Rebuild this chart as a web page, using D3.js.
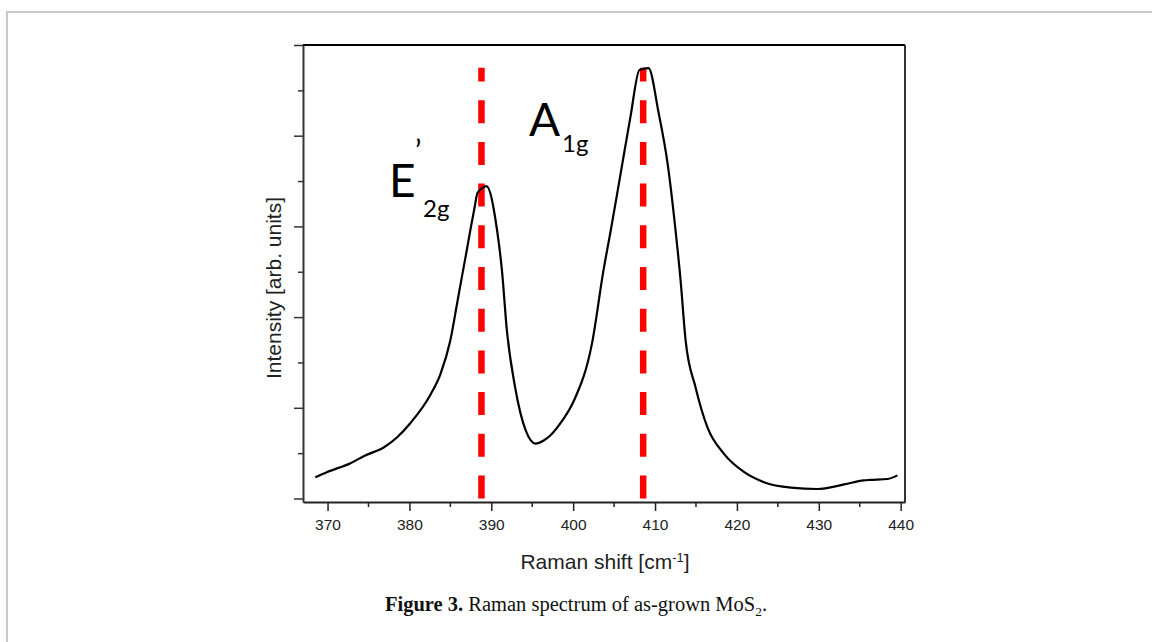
<!DOCTYPE html>
<html>
<head>
<meta charset="utf-8">
<script src="https://cdn.jsdelivr.net/npm/d3@7"></script>
<style>
  body { margin: 0; background: #fff; }
  svg { display: block; }
</style>
</head>
<body>
<div id="chart"></div>
<script>
// Raman shift (cm-1) and intensity (arb. units)
const shift = [368.5, 369.9, 372.8, 374.6, 376.9, 378.5, 380.1, 382.6, 383.8, 385.0,
  385.82, 386.43, 386.96, 387.45, 387.94, 388.3, 388.8, 389.4, 390.7, 391.3, 391.9, 392.9,
  394.2, 395.4, 396.4, 397.2, 398.6, 400.1, 402.3, 403.7, 404.6, 405.8, 407.0,
  408.1, 409.2, 410.42, 411.53, 412.5, 413.12, 413.73, 414.95, 416.4, 418.4, 420.9,
  423.3, 426.6, 429.8, 433.1, 435.5, 436.3, 438.4, 439.6];
const intensity = [0.47, 0.58, 0.78, 0.95, 1.13, 1.35, 1.66, 2.30, 2.75, 3.49,
  4.30, 4.91, 5.43, 5.93, 6.40, 6.73, 6.83, 6.89, 5.92, 5.03, 3.71, 2.46,
  1.50, 1.21, 1.28, 1.39, 1.70, 2.16, 3.42, 5.03, 5.92, 7.17, 8.42,
  9.45, 9.49, 8.52, 7.39, 5.92, 4.81, 3.49, 2.45, 1.57, 0.99, 0.58,
  0.36, 0.24, 0.21, 0.31, 0.40, 0.41, 0.43, 0.51];

// peak positions marked with red dashed lines
const peakNames = ["E2g", "A1g"];
const peakPos = [388.8, 408.55];
const peakTop = 9.5;

const xTicks = [370, 380, 390, 400, 410, 420, 430, 440];
const xMinor = [375, 385, 395, 405, 415, 425, 435];
const yTicks = d3.range(0, 11);

const width = 1152, height = 642;
const svg = d3.select("#chart").append("svg")
  .attr("width", width)
  .attr("height", height);

// page frame
svg.append("rect")
  .attr("x", 7).attr("y", 12)
  .attr("width", 1170).attr("height", 650)
  .attr("fill", "none")
  .attr("stroke", "#c8c8c8")
  .attr("stroke-width", 2);

const plot = { left: 303, right: 905, top: 45, bottom: 502 };

const x = d3.scaleLinear().domain([367.0, 440.53]).range([plot.left, plot.right]);
const y = d3.scaleLinear().domain([-0.077, 10]).range([plot.bottom, plot.top]);

// box: top and right sides
svg.append("line")
  .attr("x1", plot.left).attr("x2", plot.right)
  .attr("y1", plot.top).attr("y2", plot.top)
  .attr("stroke", "#000").attr("stroke-width", 2.2);
svg.append("line")
  .attr("x1", plot.right).attr("x2", plot.right)
  .attr("y1", plot.top).attr("y2", plot.bottom)
  .attr("stroke", "#333").attr("stroke-width", 2);

// x axis
const xAxis = svg.append("g")
  .attr("transform", `translate(0,${plot.bottom})`)
  .call(d3.axisBottom(x).tickValues(xTicks).tickSize(9).tickPadding(8).tickSizeOuter(0));
xAxis.selectAll(".tick line").attr("stroke", "#222").attr("stroke-width", 1.5);
xAxis.select(".domain").attr("stroke", "#222").attr("stroke-width", 2);
xAxis.selectAll(".tick text")
  .style("font-family", "'Liberation Sans', Arial, sans-serif")
  .style("font-size", "15.5px")
  .attr("fill", "#222");
svg.append("g")
  .selectAll("line")
  .data(xMinor)
  .join("line")
  .attr("x1", d => x(d)).attr("x2", d => x(d))
  .attr("y1", plot.bottom).attr("y2", plot.bottom + 5)
  .attr("stroke", "#222").attr("stroke-width", 1.5);

// y axis: no labels, alternating long / short ticks
const yAxis = svg.append("g")
  .attr("transform", `translate(${plot.left},0)`)
  .call(d3.axisLeft(y).tickValues(yTicks).tickFormat("").tickSizeOuter(0));
yAxis.select(".domain").attr("stroke", "#333").attr("stroke-width", 2);
yAxis.selectAll(".tick line")
  .attr("x2", d => d % 2 === 0 ? -9 : -5)
  .attr("stroke", "#333").attr("stroke-width", 1.5);

// axis titles
svg.append("text")
  .attr("x", 605).attr("y", 569)
  .attr("text-anchor", "middle")
  .style("font-family", "'Liberation Sans', Arial, sans-serif")
  .style("font-size", "21px")
  .attr("fill", "#222")
  .text("Raman shift [cm")
  .append("tspan").attr("dy", -7).style("font-size", "13px").text("-1")
  .clone(true).attr("dy", 7).style("font-size", "21px").text("]");

svg.append("text")
  .attr("transform", "translate(281,288) rotate(-90)")
  .attr("text-anchor", "middle")
  .style("font-family", "'Liberation Sans', Arial, sans-serif")
  .style("font-size", "21px")
  .attr("fill", "#222")
  .text("Intensity [arb. units]");

// red dashed peak markers, dashes counted from the bottom
svg.append("g")
  .selectAll("line")
  .data(peakPos)
  .join("line")
  .attr("x1", d => x(d)).attr("x2", d => x(d))
  .attr("y1", y(0.0)).attr("y2", y(peakTop))
  .attr("stroke", "#ff0000")
  .attr("stroke-width", 6.5)
  .attr("stroke-dasharray", "23,18.7");

// spectrum
const line = d3.line()
  .x((d, i) => x(shift[i]))
  .y(d => y(d))
  .curve(d3.curveMonotoneX);
svg.append("path")
  .datum(intensity)
  .attr("d", line)
  .attr("fill", "none")
  .attr("stroke", "#000")
  .attr("stroke-width", 2.2)
  .attr("stroke-linejoin", "round");

// peak labels
const lab = svg.append("g")
  .style("font-family", "Lato, 'Open Sans', sans-serif")
  .attr("fill", "#000");
lab.append("text").attr("x", 389).attr("y", 197).style("font-size", "46px").text("E");
lab.append("text").attr("x", 415).attr("y", 162).style("font-size", "30px").text("\u2019");
lab.append("text").attr("x", 423).attr("y", 217).style("font-size", "24px").text("2g");
lab.append("text").attr("x", 529).attr("y", 136).style("font-size", "46px").text("A");
lab.append("text").attr("x", 562).attr("y", 152).style("font-size", "24px").text("1g");

// caption
const cap = svg.append("text")
  .attr("x", 576).attr("y", 611)
  .attr("text-anchor", "middle")
  .style("font-family", "'Liberation Serif', 'DejaVu Serif', serif")
  .style("font-size", "20.5px")
  .attr("fill", "#111");
cap.append("tspan").style("font-weight", "bold").text("Figure 3.");
cap.append("tspan").text(" Raman spectrum of as-grown MoS");
cap.append("tspan").attr("dy", 5).style("font-size", "13.5px").text("2");
cap.append("tspan").attr("dy", -5).text(".");
</script>
</body>
</html>
